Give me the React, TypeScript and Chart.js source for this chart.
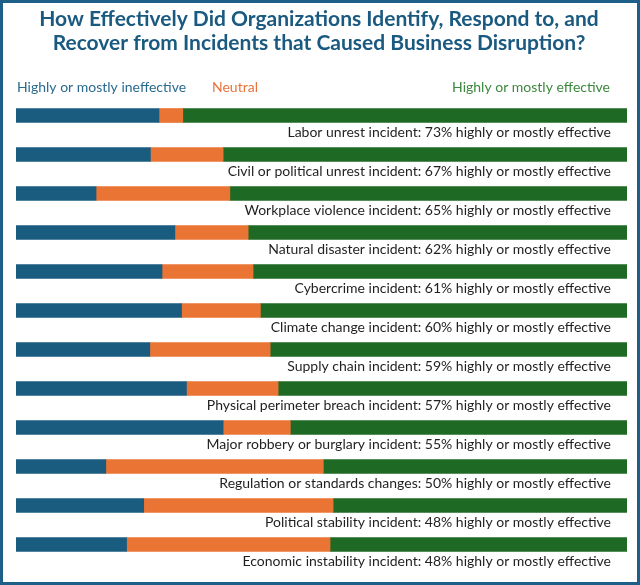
import React, { useEffect, useRef } from "react";
import { Chart, registerables } from "chart.js";

Chart.register(...registerables);

const categories = [
  "Labor unrest incident: 73% highly or mostly effective",
  "Civil or political unrest incident: 67% highly or mostly effective",
  "Workplace violence incident: 65% highly or mostly effective",
  "Natural disaster incident: 62% highly or mostly effective",
  "Cybercrime incident: 61% highly or mostly effective",
  "Climate change incident: 60% highly or mostly effective",
  "Supply chain incident: 59% highly or mostly effective",
  "Physical perimeter breach incident: 57% highly or mostly effective",
  "Major robbery or burglary incident: 55% highly or mostly effective",
  "Regulation or standards changes: 50% highly or mostly effective",
  "Political stability incident: 48% highly or mostly effective",
  "Economic instability incident: 48% highly or mostly effective",
];

const ineffective = [23.4, 22.0, 13.1, 26.0, 23.9, 27.1, 21.9, 27.9, 33.9, 14.7, 20.9, 18.1];
const neutral = [3.9, 11.9, 21.9, 12.0, 14.9, 12.9, 19.7, 15.0, 11.0, 35.6, 31.0, 33.3];
const effective = [72.7, 66.1, 65.0, 62.0, 61.2, 60.1, 58.4, 57.1, 55.1, 49.7, 48.1, 48.6];

const seriesNames = ["Highly or mostly ineffective", "Neutral", "Highly or mostly effective"];
const titleLines = [
  "How Effectively Did Organizations Identify, Respond to, and",
  "Recover from Incidents that Caused Business Disruption?",
];

const BLUE = "#1a5c80";
const ORANGE = "#ea7434";
const GREEN = "#1e6a24";
const FONT = "Lato, 'Open Sans', sans-serif";

const textPlugin = {
  id: "customText",
  afterDatasetsDraw(chart: any) {
    const ctx = chart.ctx;
    const area = chart.chartArea;
    const yScale = chart.scales.y;
    ctx.save();
    // category labels under bars
    ctx.font = `14px ${FONT}`;
    ctx.fillStyle = "#1f1f1f";
    ctx.textAlign = "right";
    ctx.textBaseline = "alphabetic";
    categories.forEach((c, i) => {
      const y = yScale.getPixelForValue(i);
      ctx.fillText(c, area.right - 16, y + 21);
    });
    // title
    ctx.font = `bold 21px ${FONT}`;
    ctx.fillStyle = "#1b5a80";
    ctx.textAlign = "center";
    ctx.fillText(titleLines[0], 319, 26);
    ctx.fillText(titleLines[1], 319, 50);
    // legend texts
    ctx.font = `14px ${FONT}`;
    ctx.textAlign = "left";
    ctx.fillStyle = "#2a6a8e";
    ctx.fillText(seriesNames[0], 17, 92);
    ctx.fillStyle = "#e8733a";
    ctx.fillText(seriesNames[1], 212, 92);
    ctx.textAlign = "right";
    ctx.fillStyle = "#3c883e";
    ctx.fillText(seriesNames[2], 610, 92);
    ctx.restore();
  },
};

export default function App() {
  const ref = useRef<HTMLCanvasElement>(null);
  useEffect(() => {
    if (!ref.current) return;
    const chart = new Chart(ref.current, {
      type: "bar",
      data: {
        labels: categories,
        datasets: [
          { label: seriesNames[0], data: ineffective, backgroundColor: BLUE },
          { label: seriesNames[1], data: neutral, backgroundColor: ORANGE },
          { label: seriesNames[2], data: effective, backgroundColor: GREEN },
        ],
      },
      options: {
        indexAxis: "y",
        responsive: false,
        animation: false,
        maintainAspectRatio: false,
        layout: { padding: { left: 16, right: 13, top: 96, bottom: 21 } },
        datasets: { bar: { barThickness: 14 } },
        scales: {
          x: { stacked: true, min: 0, max: 100, display: false },
          y: { stacked: true, display: false },
        },
        plugins: {
          legend: { display: false },
          title: { display: false },
          tooltip: { enabled: false },
        },
      },
      plugins: [textPlugin],
    });
    return () => chart.destroy();
  }, []);
  return (
    <div style={{ position: "fixed", left: 0, top: 0, width: 640, height: 585, background: "#fff" }}>
      <canvas ref={ref} width={640} height={585} style={{ width: 640, height: 585, display: "block" }} />
      <div
        style={{
          position: "absolute",
          left: 0,
          top: 0,
          width: 640,
          height: 585,
          boxSizing: "border-box",
          border: "3px solid #1d5f88",
          pointerEvents: "none",
        }}
      />
    </div>
  );
}
